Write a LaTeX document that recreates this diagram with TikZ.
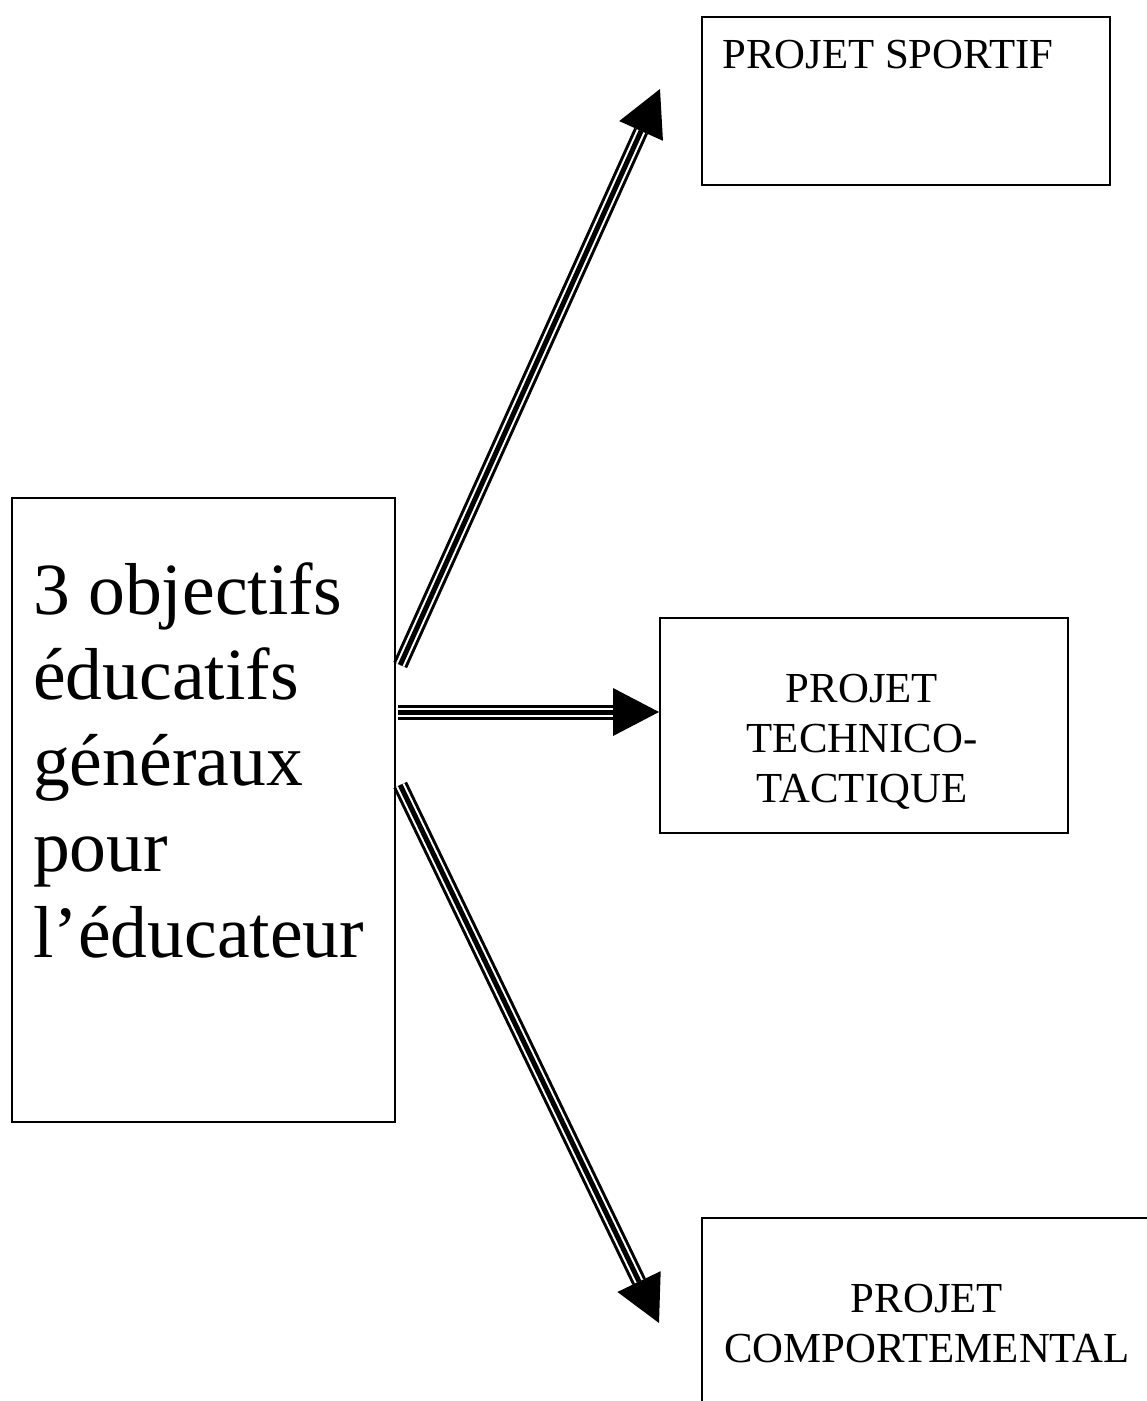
\documentclass[tikz,border=0pt]{standalone}
\usepackage{fontspec}
\setmainfont{Liberation Serif}
\usetikzlibrary{calc}
\tikzset{
  box/.style={draw=black, line width=2.2pt, inner sep=0pt, anchor=north west, rectangle},
  bigtext/.style={inner sep=0pt, font=\fontsize{73.6}{85.8}\selectfont},
  smalltext/.style={inner sep=0pt, font=\fontsize{42.8}{50}\selectfont},
}
\newcommand{\triplearrow}[2]{%
  \coordinate (tmpbase) at ($(#2)!46pt!(#1)$);
  \draw[black, line width=15pt] (#1) -- (tmpbase);
  \draw[white, line width=9pt] (#1) -- (tmpbase);
  \draw[black, line width=5pt] (#1) -- (tmpbase);
  \fill[black] (#2) -- ($(tmpbase)!24pt!90:(#2)$) -- ($(tmpbase)!24pt!-90:(#2)$) -- cycle;
}
\begin{document}
\begin{tikzpicture}[x=1pt, y=-1pt]
\clip (0,0) rectangle (1147,1401);
\fill[white] (0,0) rectangle (1147,1401);

% boxes
\node[box, minimum width=383pt, minimum height=624pt] (main) at (11,497) {};
\node[box, minimum width=408pt, minimum height=168pt] (sport) at (701,16) {};
\node[box, minimum width=408pt, minimum height=215pt] (tech) at (659,617) {};
\node[box, minimum width=462pt, minimum height=260pt] (comp) at (701,1217) {};

% texts
\node[bigtext, anchor=base west] (maintext) at (33,614)
  {\parbox[t]{355pt}{\raggedright 3 objectifs\\éducatifs\\généraux\\pour\\l’éducateur}};
\node[smalltext, anchor=base west] (sporttext) at (722,68) {PROJET SPORTIF};
\node[smalltext, anchor=base] (techtext) at (862,702)
  {\parbox[t]{380pt}{\centering PROJET\\TECHNICO-\\TACTIQUE}};
\node[smalltext, anchor=base] (comptext) at (927,1312)
  {\parbox[t]{440pt}{\centering PROJET\\COMPORTEMENTAL}};

% connector end points
\coordinate (s1) at ($(main.north east)+(4,168)$);
\coordinate (t1) at (660,89);
\coordinate (s2) at ($(main.north east)+(2,215)$);
\coordinate (t2) at (tech.west |- s2);
\coordinate (s3) at ($(main.north east)+(4,288)$);
\coordinate (t3) at (659,1323);

\triplearrow{s1}{t1}
\triplearrow{s2}{t2}
\triplearrow{s3}{t3}
\end{tikzpicture}
\end{document}
